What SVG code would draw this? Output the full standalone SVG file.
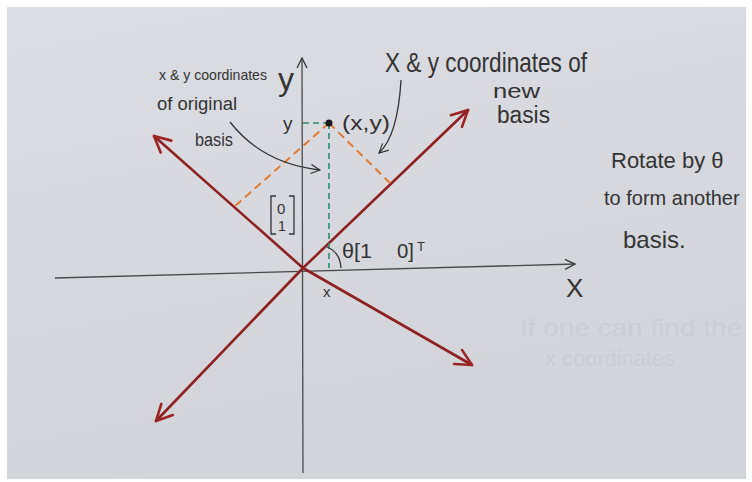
<svg xmlns="http://www.w3.org/2000/svg" width="752" height="482" viewBox="0 0 752 482">
<defs>
<linearGradient id="paper" x1="0" y1="0" x2="0.3" y2="1">
<stop offset="0" stop-color="#dcdde2"/>
<stop offset="1" stop-color="#d2d4d9"/>
</linearGradient>
<marker id="ah" viewBox="0 0 12 12" refX="11" refY="6" markerWidth="12" markerHeight="12" markerUnits="userSpaceOnUse" orient="auto">
<path d="M1,1 L11,6 L1,11" fill="none" stroke="#3a3a3a" stroke-width="1.4"/>
</marker>
<marker id="rh" viewBox="0 0 20 20" refX="18" refY="10" markerWidth="20" markerHeight="20" markerUnits="userSpaceOnUse" orient="auto">
<path d="M2,2 L18,10 L2,18" fill="none" stroke="#9b2424" stroke-width="2.6" stroke-linecap="round" stroke-linejoin="round"/>
</marker>
<marker id="ch" viewBox="0 0 12 12" refX="11" refY="6" markerWidth="11" markerHeight="11" markerUnits="userSpaceOnUse" orient="auto">
<path d="M1,1 L11,6 L1,11" fill="none" stroke="#333" stroke-width="1.3"/>
</marker>
</defs>
<style>
.t{font-family:"Liberation Sans",Arial,sans-serif;fill:#333;}
.axis{stroke:#4a4a4a;stroke-width:1.3;fill:none;}
.red{stroke:#8e2222;stroke-width:2.6;fill:none;stroke-linecap:round;}
.grn{stroke:#2c8a6c;stroke-width:1.6;stroke-dasharray:6 4;fill:none;}
.org{stroke:#e07a30;stroke-width:2;stroke-dasharray:8 5;fill:none;}
.conn{stroke:#333;stroke-width:1.3;fill:none;}
.faint{font-family:"Liberation Sans",Arial,sans-serif;fill:#cbcdd2;}
</style>
<rect x="0" y="0" width="752" height="482" fill="#ffffff"/>
<rect x="7" y="7" width="739" height="472" fill="url(#paper)"/>

<g id="axes">
<line class="axis" x1="55" y1="278" x2="575" y2="264" marker-end="url(#ah)"/>
<line class="axis" x1="303" y1="473" x2="302" y2="58" marker-end="url(#ah)"/>
</g>

<g id="new-basis">
<line class="red" x1="303" y1="268" x2="468" y2="110" marker-end="url(#rh)"/>
<line class="red" x1="303" y1="268" x2="156" y2="421" marker-end="url(#rh)"/>
<line class="red" x1="303" y1="268" x2="154" y2="136" marker-end="url(#rh)"/>
<line class="red" x1="303" y1="268" x2="472" y2="365" marker-end="url(#rh)"/>
</g>

<g id="projections">
<line class="grn" x1="303" y1="123" x2="329" y2="123"/>
<line class="grn" x1="329" y1="123" x2="329" y2="268"/>
<line class="org" x1="329" y1="123" x2="235" y2="206"/>
<line class="org" x1="329" y1="123" x2="391" y2="184"/>
<circle cx="329" cy="123" r="3.5" fill="#1a1a1a"/>
<path d="M327,247 Q340,252 341,268" class="conn"/>
</g>

<g id="connectors">
<path class="conn" d="M230,122 C248,145 275,165 320,170" marker-end="url(#ch)"/>
<path class="conn" d="M401,80 C399,115 393,140 379,153" marker-end="url(#ch)"/>
</g>

<g id="label-original">
<text class="t" x="159" y="80" font-size="15" textLength="108" lengthAdjust="spacingAndGlyphs">x &amp; y coordinates</text>
<text class="t" x="157" y="110" font-size="18" textLength="80" lengthAdjust="spacingAndGlyphs">of original</text>
<text class="t" x="195" y="146" font-size="18" textLength="38" lengthAdjust="spacingAndGlyphs">basis</text>
</g>

<g id="label-new">
<text class="t" x="385" y="72" font-size="28" textLength="202" lengthAdjust="spacingAndGlyphs">X &amp; y coordinates of</text>
<text class="t" x="493" y="98" font-size="21" textLength="47" lengthAdjust="spacingAndGlyphs">new</text>
<text class="t" x="497" y="123" font-size="23" textLength="53" lengthAdjust="spacingAndGlyphs">basis</text>
</g>

<g id="label-rotate">
<text class="t" x="611" y="168" font-size="22">Rotate by θ</text>
<text class="t" x="604" y="205" font-size="20">to form another</text>
<text class="t" x="623" y="248" font-size="24">basis.</text>
</g>

<g id="label-axes">
<text class="t" x="278" y="90" font-size="32">y</text>
<text class="t" x="566" y="297" font-size="26">X</text>
<text class="t" x="283" y="130" font-size="19">y</text>
<text class="t" x="323" y="297" font-size="15">x</text>
<text class="t" x="342" y="130" font-size="20" textLength="48" lengthAdjust="spacingAndGlyphs">(x,y)</text>
</g>

<g id="vector-01">
<path d="M276,196 L271,196 L271,234 L276,234 M289,196 L294,196 L294,234 L289,234" class="conn"/>
<text class="t" x="277" y="214" font-size="15">0</text>
<text class="t" x="278" y="231" font-size="14">1</text>
</g>

<g id="vector-10">
<text class="t" x="342" y="258" font-size="20" textLength="30" lengthAdjust="spacingAndGlyphs">θ[1</text>
<text class="t" x="397" y="258" font-size="20" textLength="17" lengthAdjust="spacingAndGlyphs">0]</text>
<text class="t" x="417" y="251" font-size="13">T</text>
</g>

<g id="faint-note">
<text class="faint" x="520" y="336" font-size="24" textLength="222" lengthAdjust="spacingAndGlyphs">If one can find the</text>
<text class="faint" x="545" y="366" font-size="22" textLength="130" lengthAdjust="spacingAndGlyphs">x coordinates</text>
</g>
</svg>
